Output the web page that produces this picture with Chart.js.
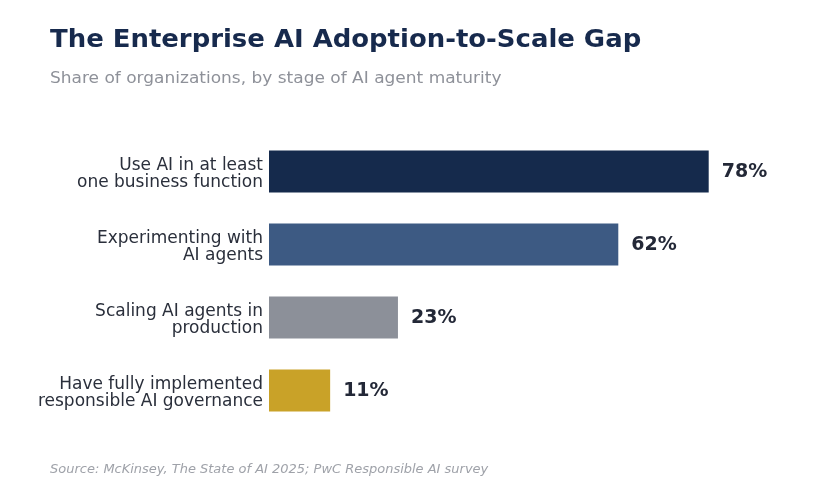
<!DOCTYPE html>
<html>
<head>
<meta charset="utf-8">
<script src="https://cdn.jsdelivr.net/npm/chart.js@4"></script>
<style>
	html, body { margin: 0; padding: 0; background: #fff; }
	#wrap { position: relative; width: 840px; height: 490px; }
	#chart-canvas { position: absolute; left: 0; top: 0; }
	.txt { position: absolute; left: 50px; font-family: 'DejaVu Sans'; white-space: nowrap; line-height: 1.164; transform-origin: left top; }
	.title { top: 26px; font-size: 24px; font-weight: bold; color: #172a4d; transform: scaleX(1.08); }
	.subtitle { top: 69px; font-size: 16px; color: #8e9199; transform: scaleX(1.062); }
	.source { top: 463px; font-size: 12px; font-style: italic; color: #9fa2a9; transform: scaleX(1.082); }
</style>
</head>
<body>
<div id="wrap">
	<canvas id="chart-canvas" width="840" height="490"></canvas>
	<div class="txt title">The Enterprise AI Adoption-to-Scale Gap</div>
	<div class="txt subtitle">Share of organizations, by stage of AI agent maturity</div>
	<div class="txt source">Source: McKinsey, The State of AI 2025; PwC Responsible AI survey</div>
</div>
<script>
var stages = [
	["Use AI in at least", "one business function"],
	["Experimenting with", "AI agents"],
	["Scaling AI agents in", "production"],
	["Have fully implemented", "responsible AI governance"]
];
var shares = [78, 62, 23, 11];
var barColors = ['#152a4c', '#3d5a83', '#8c9099', '#c9a228'];

Chart.defaults.font.family = "'DejaVu Sans'";

// draws the "78%" labels just past the end of each bar
var valueLabels = {
	id: 'valueLabels',
	afterDatasetsDraw: function(chart) {
		var ctx = chart.ctx;
		var meta = chart.getDatasetMeta(0);
		ctx.save();
		ctx.font = "bold 19px 'DejaVu Sans'";
		ctx.fillStyle = '#232837';
		ctx.textBaseline = 'middle';
		meta.data.forEach(function(bar, i) {
			ctx.fillText(shares[i] + '%', bar.x + 12, bar.y + 1);
		});
		ctx.restore();
	}
};

var ctx = document.getElementById("chart-canvas").getContext('2d');
var chart = new Chart(ctx, {
	type: 'bar',
	data: {
		labels: stages,
		datasets: [{
			data: shares,
			backgroundColor: barColors,
			borderColor: 'rgba(255,255,255,0.4)',
			borderWidth: 1,
			categoryPercentage: 1,
			barPercentage: 0.6
		}]
	},
	options: {
		indexAxis: 'y',
		responsive: false,
		animation: false,
		layout: { padding: { left: 0, right: 6, top: 135, bottom: 63 } },
		plugins: {
			legend: { display: false },
			tooltip: { enabled: false }
		},
		scales: {
			x: {
				display: false,
				min: 0,
				max: 100
			},
			y: {
				border: { display: false },
				grid: { display: false, drawTicks: false },
				ticks: {
					padding: 6,
					labelOffset: 3,
					color: '#2a2f3b',
					font: { family: "'DejaVu Sans'", size: 17, lineHeight: 1.0 }
				},
				afterFit: function(scale) { scale.width = 269; }
			}
		}
	},
	plugins: [valueLabels]
});
</script>
</body>
</html>
